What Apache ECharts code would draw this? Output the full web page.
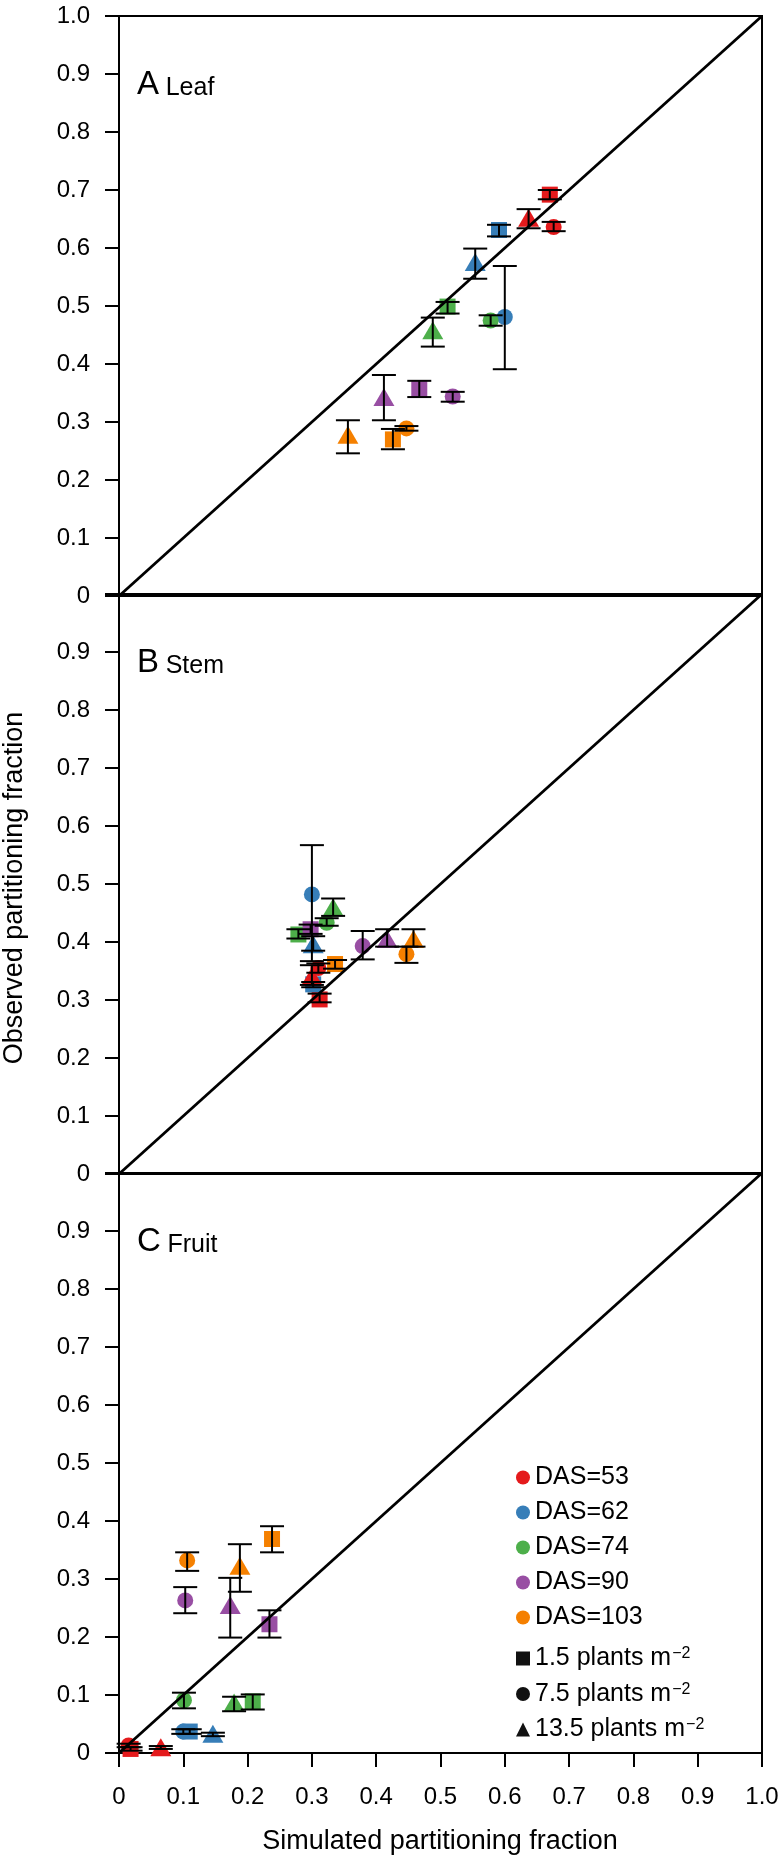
<!DOCTYPE html>
<html>
<head>
<meta charset="utf-8">
<title>Partitioning fraction</title>
<script src="https://cdn.jsdelivr.net/npm/echarts@6/dist/echarts.min.js"></script>
<style>
  html, body { margin: 0; padding: 0; background: #fff; }
  #chart { width: 782px; height: 1857px; }
</style>
</head>
<body>
<div id="chart"></div>
<script>
  // groups
  const dasNames = ['DAS=53', 'DAS=62', 'DAS=74', 'DAS=90', 'DAS=103']
  const dasColors = ['#E41A1C', '#377EB8', '#4DAF4A', '#984EA3', '#F58000']
  const densityNames = ['1.5', '7.5', '13.5']
  const densitySymbols = ['rect', 'circle', 'triangle']

  // point order: DAS 53,62,74,90,103 x density 1.5,7.5,13.5
  const pointDas = [0, 0, 0, 1, 1, 1, 2, 2, 2, 3, 3, 3, 4, 4, 4]
  const pointDensity = [0, 1, 2, 0, 1, 2, 0, 1, 2, 0, 1, 2, 0, 1, 2]

  // A Leaf
  const leafSim = [0.670, 0.676, 0.637, 0.591, 0.600, 0.554, 0.511, 0.578, 0.488, 0.467, 0.519, 0.412, 0.426, 0.447, 0.356]
  const leafObs = [0.692, 0.636, 0.652, 0.631, 0.481, 0.576, 0.499, 0.475, 0.458, 0.357, 0.344, 0.343, 0.270, 0.289, 0.278]
  const leafLow = [0.684, 0.629, 0.634, 0.620, 0.391, 0.547, 0.487, 0.466, 0.430, 0.343, 0.335, 0.303, 0.253, 0.285, 0.246]
  const leafHigh = [0.700, 0.645, 0.667, 0.640, 0.569, 0.599, 0.507, 0.484, 0.480, 0.371, 0.352, 0.381, 0.288, 0.293, 0.303]

  // B Stem
  const stemSim = [0.312, 0.310, 0.300, 0.302, 0.300, 0.302, 0.279, 0.323, 0.333, 0.298, 0.379, 0.417, 0.336, 0.447, 0.458]
  const stemObs = [0.301, 0.355, 0.341, 0.327, 0.482, 0.396, 0.413, 0.433, 0.460, 0.422, 0.393, 0.405, 0.362, 0.379, 0.405]
  const stemLow = [0.296, 0.347, 0.326, 0.322, 0.367, 0.385, 0.406, 0.428, 0.445, 0.414, 0.370, 0.392, 0.354, 0.364, 0.392]
  const stemHigh = [0.311, 0.363, 0.360, 0.331, 0.567, 0.410, 0.422, 0.441, 0.475, 0.430, 0.419, 0.422, 0.369, 0.392, 0.422]

  // C Fruit
  const fruitSim = [0.018, 0.015, 0.065, 0.110, 0.100, 0.146, 0.208, 0.101, 0.179, 0.234, 0.103, 0.173, 0.238, 0.106, 0.188]
  const fruitObs = [0.007, 0.013, 0.010, 0.037, 0.037, 0.033, 0.089, 0.091, 0.087, 0.222, 0.263, 0.255, 0.369, 0.332, 0.323]
  const fruitLow = [0.004, 0.010, 0.007, 0.033, 0.033, 0.029, 0.075, 0.077, 0.072, 0.199, 0.241, 0.199, 0.346, 0.314, 0.278]
  const fruitHigh = [0.010, 0.016, 0.012, 0.041, 0.041, 0.035, 0.101, 0.104, 0.097, 0.246, 0.286, 0.302, 0.391, 0.346, 0.360]

  const diagonal = [[0, 0], [1, 1]]

  const panels = [
    { letter: 'A', name: 'Leaf', sim: leafSim, obs: leafObs, low: leafLow, high: leafHigh },
    { letter: 'B', name: 'Stem', sim: stemSim, obs: stemObs, low: stemLow, high: stemHigh },
    { letter: 'C', name: 'Fruit', sim: fruitSim, obs: fruitObs, low: fruitLow, high: fruitHigh }
  ]

  const font = 'Liberation Sans, Arial, sans-serif'
  const gridTops = [16, 594, 1173]
  const gridHeight = 580

  const symbolSizes = [16, 16, [21, 18]]

  const chart = echarts.init(document.getElementById('chart'), null, { renderer: 'canvas' })

  const grids = []
  const xAxes = []
  const yAxes = []
  const series = []
  const graphics = []

  panels.forEach((p, i) => {
    const last = i === panels.length - 1
    grids.push({
      left: 119,
      width: 643,
      top: gridTops[i],
      height: gridHeight,
      show: true,
      borderColor: '#000',
      borderWidth: 2,
      backgroundColor: 'transparent'
    })
    xAxes.push({
      gridIndex: i,
      type: 'value',
      min: 0,
      max: 1,
      interval: 0.1,
      splitLine: { show: false },
      axisLine: { show: true, onZero: false, lineStyle: { color: '#000', width: 2 } },
      axisTick: { show: last, length: 14, lineStyle: { color: '#000', width: 2 } },
      axisLabel: {
        show: last,
        margin: 32,
        color: '#000',
        fontSize: 24,
        fontFamily: font,
        formatter: v => (v === 0 ? '0' : v.toFixed(1))
      }
    })
    yAxes.push({
      gridIndex: i,
      type: 'value',
      min: 0,
      max: 1,
      interval: 0.1,
      splitLine: { show: false },
      axisLine: { show: true, onZero: false, lineStyle: { color: '#000', width: 2 } },
      axisTick: { show: true, length: 14, lineStyle: { color: '#000', width: 2 } },
      axisLabel: {
        margin: 29,
        color: '#000',
        fontSize: 24,
        fontFamily: font,
        formatter: v => {
          if (v === 0) return '0'
          if (i > 0 && v > 0.95) return ''
          return v.toFixed(1)
        }
      }
    })

    // 1:1 line
    series.push({
      type: 'line',
      xAxisIndex: i,
      yAxisIndex: i,
      data: diagonal,
      symbol: 'none',
      silent: true,
      z: 5,
      lineStyle: { color: '#000', width: 2.8 }
    })

    // points, one series per density
    densitySymbols.forEach((sym, d) => {
      const data = []
      p.sim.forEach((x, k) => {
        if (pointDensity[k] !== d) return
        data.push({ value: [x, p.obs[k]], itemStyle: { color: dasColors[pointDas[k]], opacity: 1 } })
      })
      series.push({
        type: 'scatter',
        xAxisIndex: i,
        yAxisIndex: i,
        symbol: sym,
        symbolSize: symbolSizes[d],
        itemStyle: { opacity: 1 },
        data: data,
        z: 2
      })
    })

    // error bars
    series.push({
      type: 'custom',
      xAxisIndex: i,
      yAxisIndex: i,
      z: 4,
      silent: true,
      data: p.sim.map((x, k) => [x, p.low[k], p.high[k]]),
      encode: { x: 0, y: [1, 2] },
      renderItem(params, api) {
        const x = api.value(0)
        const a = api.coord([x, api.value(1)])
        const b = api.coord([x, api.value(2)])
        const w = 12
        const style = { stroke: '#000', lineWidth: 2 }
        return {
          type: 'group',
          children: [
            { type: 'line', shape: { x1: a[0], y1: a[1], x2: b[0], y2: b[1] }, style },
            { type: 'line', shape: { x1: a[0] - w, y1: a[1], x2: a[0] + w, y2: a[1] }, style },
            { type: 'line', shape: { x1: b[0] - w, y1: b[1], x2: b[0] + w, y2: b[1] }, style }
          ]
        }
      }
    })

    // panel label
    graphics.push({
      type: 'text',
      left: 137,
      top: gridTops[i] + 52,
      style: {
        text: '{big|' + p.letter + '} {small|' + p.name + '}',
        fill: '#000',
        font: '24px ' + font,
        rich: {
          big: { fontSize: 33, fontFamily: font, verticalAlign: 'bottom', lineHeight: 32 },
          small: { fontSize: 25, fontFamily: font, verticalAlign: 'bottom', lineHeight: 32 }
        }
      }
    })
  })

  // legend helper series (no points)
  dasNames.forEach((n, k) => {
    series.push({ type: 'scatter', name: n, xAxisIndex: 2, yAxisIndex: 2, data: [], itemStyle: { color: dasColors[k], opacity: 1 } })
  })
  densityNames.forEach((n, k) => {
    series.push({ type: 'scatter', name: n, xAxisIndex: 2, yAxisIndex: 2, data: [], symbol: densitySymbols[k], itemStyle: { color: '#111', opacity: 1 } })
  })

  // axis titles
  graphics.push({
    type: 'text',
    x: 440,
    y: 1842,
    style: {
      text: 'Simulated partitioning fraction',
      fill: '#000',
      font: '27px ' + font,
      align: 'center',
      verticalAlign: 'middle'
    }
  })
  graphics.push({
    type: 'text',
    x: 15,
    y: 888,
    rotation: Math.PI / 2,
    style: {
      text: 'Observed partitioning fraction',
      fill: '#000',
      font: '27px ' + font,
      align: 'center',
      verticalAlign: 'middle'
    }
  })

  const legendRich = {
    t: { fontSize: 25, fontFamily: font, color: '#000', lineHeight: 25 },
    sup: { fontSize: 16, fontFamily: font, color: '#000', lineHeight: 16, verticalAlign: 'top', padding: [0, 0, 0, 1] }
  }

  chart.setOption({
    animation: false,
    backgroundColor: '#fff',
    grid: grids,
    xAxis: xAxes,
    yAxis: yAxes,
    legend: [
      {
        data: dasNames.map(n => ({ name: n, icon: 'circle' })),
        orient: 'vertical',
        left: 511,
        top: 1460,
        itemWidth: 14,
        itemHeight: 14,
        itemGap: 10,
        itemTextGap: 24,
        selectedMode: false,
        formatter: n => '{t|' + n + '}',
        textStyle: { fontSize: 25, rich: legendRich }
      },
      {
        data: densityNames.map((n, k) => ({ name: n, icon: densitySymbols[k] })),
        orient: 'vertical',
        left: 511,
        top: 1641,
        itemWidth: 14,
        itemHeight: 14,
        itemGap: 10.5,
        itemTextGap: 24,
        selectedMode: false,
        formatter: n => '{t|' + n + ' plants m}{sup|−2}',
        textStyle: { fontSize: 25, rich: legendRich }
      }
    ],
    graphic: graphics,
    series: series
  })
</script>
</body>
</html>
